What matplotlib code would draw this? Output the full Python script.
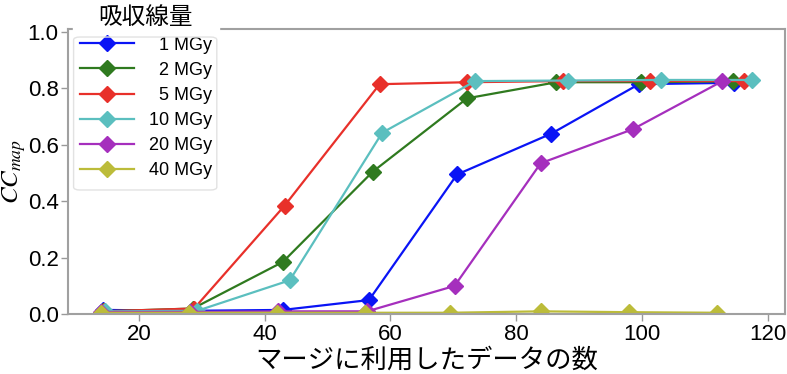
import matplotlib
matplotlib.use("Agg")
import matplotlib.pyplot as plt
from matplotlib.patches import FancyBboxPatch

plt.rcParams['font.family'] = ['Liberation Sans', 'Noto Sans CJK JP', 'DejaVu Sans']
plt.rcParams['mathtext.fontset'] = 'stix'

# data
labels = ['  1 MGy', '  2 MGy', '  5 MGy', '10 MGy', '20 MGy', '40 MGy']
colors = ['#0a14f5', '#2f7a1f', '#e8302a', '#5bbfbf', '#a52fbd', '#bcbc3a']

x_1 = [14.3, 28.6, 42.9, 56.6, 70.6, 85.6, 99.5, 114.7]
y_1 = [0.015, 0.012, 0.015, 0.05, 0.495, 0.64, 0.815, 0.82]
x_2 = [14.3, 28.6, 42.9, 57.2, 72.2, 86.4, 99.9, 114.4]
y_2 = [0.01, 0.02, 0.185, 0.505, 0.765, 0.822, 0.822, 0.825]
x_5 = [14.4, 28.8, 43.2, 58.3, 72.2, 87.5, 101.2, 116.2]
y_5 = [0.01, 0.02, 0.385, 0.815, 0.822, 0.826, 0.826, 0.826]
x_10 = [14.7, 29.3, 44.0, 58.7, 73.5, 88.2, 103.0, 117.5]
y_10 = [0.01, 0.012, 0.12, 0.643, 0.826, 0.828, 0.83, 0.83]
x_20 = [14.0, 28.1, 42.2, 56.3, 70.2, 83.9, 98.5, 112.7]
y_20 = [0.008, 0.008, 0.01, 0.01, 0.10, 0.535, 0.655, 0.825]
x_40 = [14.0, 28.0, 42.0, 56.0, 69.4, 83.9, 97.9, 111.9]
y_40 = [0.005, 0.005, 0.005, 0.005, 0.005, 0.01, 0.007, 0.005]

xs = [x_1, x_2, x_5, x_10, x_20, x_40]
ys = [y_1, y_2, y_5, y_10, y_20, y_40]

fig = plt.figure(figsize=(7.87, 3.74), dpi=100)
ax = fig.add_axes([0.087, 0.16, 0.91, 0.762])

for x, y, c, lab in zip(xs, ys, colors, labels):
    ax.plot(x, y, color=c, marker='D', markersize=8, linewidth=1.6, label=lab)

ax.set_ylim(0, 1.01)
ax.set_xticks([20, 40, 60, 80, 100, 120])
ax.set_yticks([0.0, 0.2, 0.4, 0.6, 0.8, 1.0])
ax.tick_params(labelsize=16, color='#999999', length=5, width=1, pad=2)
for s in ax.spines.values():
    s.set_color('#a0a0a0')
    s.set_linewidth(1.5)

ax.set_xlabel('マージに利用したデータの数', fontsize=19, labelpad=2)
ax.set_ylabel('$CC_{map}$', fontsize=18)
ax.yaxis.set_label_coords(-0.057, 0.5)

leg = ax.legend(title='吸収線量', loc='upper left', bbox_to_anchor=(0.006, 1.105),
                borderaxespad=0, fontsize=13, title_fontsize=17, framealpha=1,
                edgecolor='white', handlelength=3.0, labelspacing=0.45)
leg.get_frame().set_facecolor('white')

# faint rounded box around the legend entries
box = FancyBboxPatch((0.0935, 0.492), 0.182, 0.409, boxstyle='round,pad=0,rounding_size=0.008',
                     transform=fig.transFigure, fill=False, edgecolor='#e2e2e2',
                     linewidth=1, zorder=10)
fig.patches.append(box)

plt.savefig('out.png', dpi=100)
